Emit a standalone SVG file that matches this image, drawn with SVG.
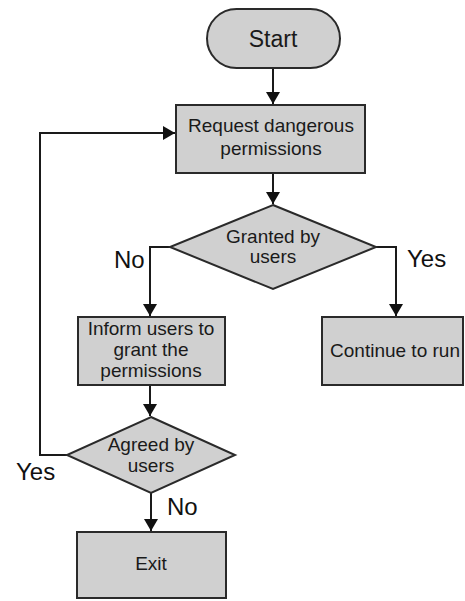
<svg xmlns="http://www.w3.org/2000/svg" width="465" height="601" viewBox="0 0 465 601">
<style>
.n{fill:#d0d0d0;stroke:#2a2a2a;stroke-width:2}
.t{font-family:"Liberation Sans",Arial,sans-serif;font-size:19px;fill:#1a1a1a;text-anchor:middle}
.l{font-family:"Liberation Sans",Arial,sans-serif;font-size:24px;fill:#111}
.c{fill:none;stroke:#1a1a1a;stroke-width:2}
</style>
<defs>
<marker id="a" markerWidth="12" markerHeight="14" refX="12" refY="7" orient="auto" markerUnits="userSpaceOnUse" viewBox="0 0 12 14">
<path d="M0,0 L12,7 L0,14 Z" fill="#111"/>
</marker>
</defs>
<rect width="465" height="601" fill="#fff"/>
<g id="connectors">
<line class="c" x1="273" y1="68" x2="273" y2="104" marker-end="url(#a)"/>
<line class="c" x1="273" y1="173" x2="273" y2="204" marker-end="url(#a)"/>
<polyline class="c" points="170,247 150,247 150,316" marker-end="url(#a)"/>
<polyline class="c" points="376,247 396,247 396,316" marker-end="url(#a)"/>
<line class="c" x1="150" y1="385" x2="150" y2="416" marker-end="url(#a)"/>
<polyline class="c" points="67,455 40,455 40,133 175,133" marker-end="url(#a)"/>
<line class="c" x1="151" y1="493" x2="151" y2="531" marker-end="url(#a)"/>
<text class="l" x="114" y="268">No</text>
<text class="l" x="407" y="267">Yes</text>
<text class="l" x="16" y="480">Yes</text>
<text class="l" x="167" y="515">No</text>
</g>
<g id="start">
<rect class="n" x="207" y="9" width="133" height="59" rx="29.5"/>
<text class="t" x="273" y="47" style="font-size:23px">Start</text>
</g>
<g id="request">
<rect class="n" x="176" y="105" width="189" height="68"/>
<text class="t" x="271" y="132">Request dangerous</text>
<text class="t" x="271" y="155">permissions</text>
</g>
<g id="granted">
<polygon class="n" points="273,205 376,247 273,289 170,247"/>
<text class="t" x="273" y="243">Granted by</text>
<text class="t" x="273" y="263">users</text>
</g>
<g id="inform">
<rect class="n" x="78" y="317" width="147" height="68"/>
<text class="t" x="151" y="335">Inform users to</text>
<text class="t" x="151" y="356">grant the</text>
<text class="t" x="151" y="377">permissions</text>
</g>
<g id="continue">
<rect class="n" x="322" y="317" width="141" height="68"/>
<text class="t" x="395" y="357">Continue to run</text>
</g>
<g id="agreed">
<polygon class="n" points="151,417 235,455 151,493 67,455"/>
<text class="t" x="151" y="451">Agreed by</text>
<text class="t" x="151" y="472">users</text>
</g>
<g id="exit">
<rect class="n" x="77" y="532" width="149" height="66"/>
<text class="t" x="151" y="570">Exit</text>
</g>
</svg>
